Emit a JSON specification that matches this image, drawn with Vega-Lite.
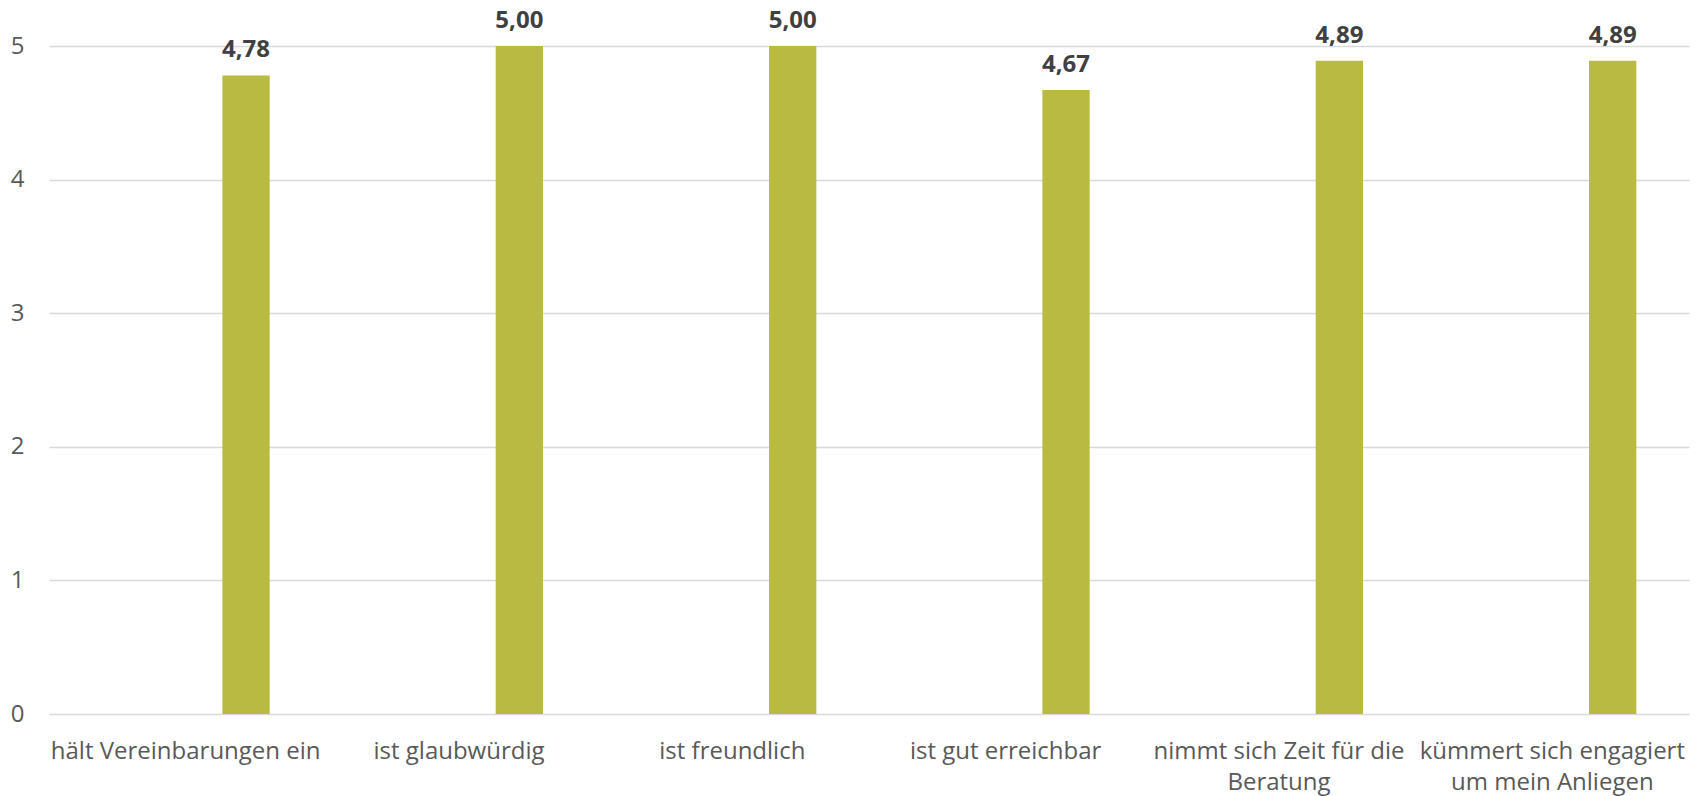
{
  "$schema": "https://vega.github.io/schema/vega-lite/v6.json",
  "autosize": "none",
  "width": 1640,
  "height": 668,
  "padding": {"left": 49, "top": 46, "right": 16, "bottom": 82},
  "background": "white",
  "config": {
    "view": {"stroke": null},
    "font": "Open Sans",
    "locale": {"number": {"decimal": ",", "thousands": ".", "grouping": [3], "currency": ["", " €"]}}
  },
  "data": {
    "values": [
      {"kategorie": "hält Vereinbarungen ein", "reihe": "Mittelwert", "wert": 4.78},
      {"kategorie": "ist glaubwürdig", "reihe": "Mittelwert", "wert": 5.00},
      {"kategorie": "ist freundlich", "reihe": "Mittelwert", "wert": 5.00},
      {"kategorie": "ist gut erreichbar", "reihe": "Mittelwert", "wert": 4.67},
      {"kategorie": "nimmt sich Zeit für die Beratung", "reihe": "Mittelwert", "wert": 4.89},
      {"kategorie": "kümmert sich engagiert um mein Anliegen", "reihe": "Mittelwert", "wert": 4.89}
    ]
  },
  "encoding": {
    "x": {
      "field": "kategorie",
      "type": "nominal",
      "sort": null,
      "scale": {"paddingInner": 0, "paddingOuter": 0},
      "axis": {
        "title": null,
        "domain": false,
        "ticks": false,
        "labelAngle": 0,
        "labelFontSize": 24,
        "labelColor": "#595959",
        "labelPadding": 25,
        "labelLineHeight": 31,
        "labelLimit": 0,
        "labelOverlap": false,
        "labelExpr": "datum.value == 'nimmt sich Zeit für die Beratung' ? ['nimmt sich Zeit für die', 'Beratung'] : datum.value == 'kümmert sich engagiert um mein Anliegen' ? ['kümmert sich engagiert', 'um mein Anliegen'] : datum.value"
      }
    },
    "xOffset": {
      "field": "reihe",
      "type": "nominal",
      "scale": {"paddingInner": 0.5816, "paddingOuter": 1, "align": 0.767}
    },
    "y": {
      "field": "wert",
      "type": "quantitative",
      "scale": {"domain": [0, 5], "nice": false},
      "axis": {
        "title": null,
        "values": [0, 1, 2, 3, 4, 5],
        "format": "d",
        "domain": false,
        "ticks": false,
        "grid": true,
        "gridColor": "#d9d9d9",
        "gridWidth": 1.3,
        "labelFontSize": 24,
        "labelColor": "#595959",
        "labelPadding": 25
      }
    }
  },
  "layer": [
    {
      "mark": {"type": "bar", "color": "#b9ba42"}
    },
    {
      "mark": {"type": "text", "fontSize": 24, "fontWeight": "bold", "color": "#404040", "baseline": "alphabetic", "dy": -18},
      "encoding": {
        "text": {"field": "wert", "type": "quantitative", "format": ".2f"}
      }
    }
  ]
}
